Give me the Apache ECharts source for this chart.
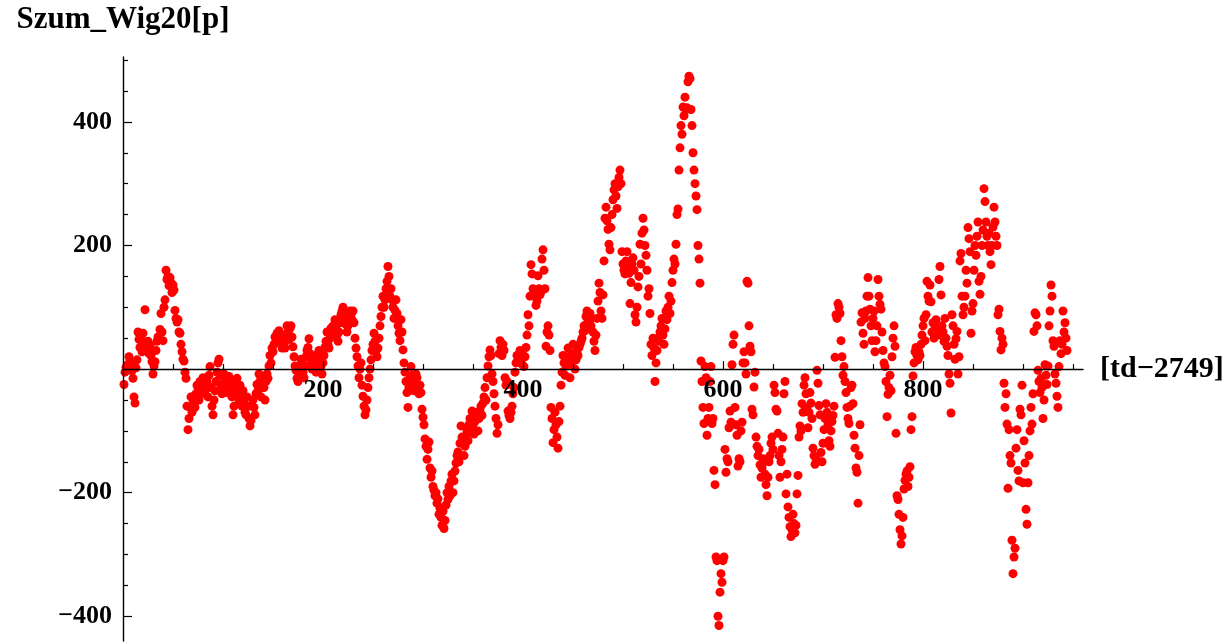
<!DOCTYPE html>
<html><head><meta charset="utf-8">
<script src="https://cdn.jsdelivr.net/npm/echarts@6/dist/echarts.min.js"></script>
<style>html,body{margin:0;padding:0;background:#fff}#c{width:1232px;height:642px}</style>
</head><body><div id="c"></div>
<script>
const firstDay = 1;
const noise = [
-25,-5,3,0,8,20,5,12,-3,-15,
-45,-55,2,15,60,48,35,50,28,58,
42,96,38,30,45,25,38,22,12,-8,
5,12,30,45,52,48,64,90,60,46,
100,112,160,145,150,135,148,140,124,136,
128,95,82,76,80,60,58,40,28,16,
13,-5,-15,-60,-98,-80,-62,-45,-70,-50,
-44,-62,-40,-26,-30,-50,-20,-26,-38,-14,
-25,-40,-32,-20,-45,-10,4,-30,-60,-74,
-50,-35,-20,-5,10,16,-10,-25,-40,-30,
-8,-20,-30,-38,-25,-12,-30,-20,-45,-74,
-60,-38,-26,-15,-30,-50,-26,-40,-60,-35,
-55,-70,-74,-45,-60,-80,-92,-83,-60,-50,
-62,-74,-40,-25,-35,-8,-20,-45,-30,-15,
-30,-50,-20,-8,-15,5,22,10,34,28,
40,52,45,58,50,62,58,44,34,50,
40,34,55,70,60,48,66,70,52,36,
20,5,-2,-15,-20,-10,5,16,10,-5,
-14,5,20,30,35,49,25,10,0,15,
20,8,-5,12,25,30,18,5,-8,10,
22,35,45,60,40,34,50,66,58,70,
62,80,70,55,45,60,75,88,94,100,
90,80,72,60,70,84,94,88,80,94,
75,50,34,20,5,-14,0,10,-26,-44,
-60,-74,-66,-50,-30,-14,0,15,30,40,
58,45,30,20,34,50,70,85,100,118,
100,112,130,142,166,150,118,130,112,100,
82,95,112,90,70,58,46,80,60,31,
10,-5,-20,-38,-62,-30,-15,4,-10,-25,
-35,-20,-8,-14,-30,-40,-26,-38,-65,-78,
-90,-113,-125,-146,-130,-118,-160,-175,-165,-190,
-196,-205,-200,-217,-210,-235,-225,-240,-253,-230,
-258,-245,-220,-200,-211,-190,-205,-181,-170,-200,
-181,-165,-152,-140,-134,-150,-120,-92,-110,-116,
-140,-125,-110,-100,-116,-90,-80,-100,-68,-90,
-105,-85,-70,-75,-100,-80,-68,-60,-75,-55,
-45,-30,-50,-14,5,20,31,22,-8,-20,
-40,-60,-80,-104,-90,25,46,35,22,40,
30,-14,-26,-20,-68,-75,-80,-70,-60,-40,
-30,-5,10,22,15,22,30,18,8,22,
4,20,35,55,88,70,118,169,154,130,
125,118,103,110,151,130,120,125,178,193,
160,130,37,60,70,55,30,-62,-80,-119,
-98,-70,-90,-110,-128,-85,-60,-26,-5,22,
10,-10,5,20,34,15,-14,8,25,40,
20,0,15,30,22,35,40,45,50,60,
70,62,85,94,80,75,90,70,82,60,
45,30,55,82,110,139,124,94,82,120,
175,244,262,240,226,202,193,229,250,274,
290,300,280,260,295,310,322,300,190,170,
160,154,175,190,165,155,106,140,170,180,
160,88,76,100,133,150,202,170,220,244,
225,200,184,160,118,130,90,40,22,50,
34,-20,10,30,50,45,60,70,82,55,
40,65,94,80,100,118,90,110,140,160,
178,170,202,250,259,322,358,394,380,424,
410,440,420,423,465,474,470,420,394,350,
322,300,280,258,200,178,139,13,-20,-62,
-88,4,-14,-107,-80,-62,-20,4,-88,-80,
-164,-187,-304,-310,-400,-415,-361,-331,-345,-310,
-304,-130,-167,-145,-150,-95,-68,-86,7,40,
55,-62,-90,-107,-157,-145,-150,-100,-86,10,
28,10,-8,142,139,70,37,28,-65,-74,
-29,-5,-110,-125,-140,-130,-155,-175,-160,-145,
-150,-170,-187,-205,-175,-150,-140,-120,-110,-130,
-26,-38,-65,-68,-104,-140,-175,-150,-130,-110,
-40,-20,-202,-170,-223,-240,-255,-271,-260,-235,
-250,-265,-253,-202,-172,-110,-92,-100,-56,-70,
-26,-14,-40,-62,-95,-70,-38,-55,-80,-128,
-140,-154,-145,-2,-23,-59,-74,-135,-150,-120,
-98,-80,-56,-70,-90,-116,-125,-100,-85,-75,
-60,19,88,82,106,100,90,46,20,-10,
4,-20,-38,-62,-80,-88,-60,-30,-26,-56,
-107,-128,-160,-167,-217,-140,-90,76,91,58,
40,82,94,118,148,118,97,70,46,82,
94,28,46,70,145,118,105,97,60,30,
10,4,-20,-77,-41,-30,-10,-35,20,50,
70,37,-104,-205,-211,-235,-260,-283,-270,-240,
-194,-180,-170,-165,-190,-175,-158,-98,-77,-11,
10,28,35,22,15,28,22,40,55,70,
82,46,88,142,118,110,136,109,60,75,
50,70,80,65,55,145,166,120,70,60,
45,82,50,37,22,-8,-23,-71,88,70,
40,16,49,61,-8,20,175,187,118,88,
100,118,160,139,229,211,190,58,94,106,
160,200,184,215,238,142,121,150,200,225,
292,271,238,215,200,220,190,169,200,230,
262,238,215,200,88,97,61,31,50,40,
-23,-62,-40,-89,-193,-98,-140,-152,-277,-331,
-304,-290,-128,-98,-164,-181,-65,-74,-26,-184,
-116,-152,-227,-251,-184,-140,-100,-62,-89,-40,
61,91,88,70,-2,-20,-38,-15,-30,-80,
-50,7,-10,-25,5,70,94,136,118,46,
37,-8,-23,-44,-62,4,46,25,40,94,
60,75,50,30
];
const xMajorTicks = [200, 400, 600, 800];
const yMajorTicks = [-400, -200, 200, 400];
const xName = '[td\u22122749]';
const yName = 'Szum_Wig20[p]';
const yMin = -440, yMax = 505;

const points = noise.map((v, i) => [firstDay + i, v]);
const fmt = v => (v < 0 ? '\u2212' + Math.abs(v) : String(v));
const font = '"Liberation Serif", "Times New Roman", serif';

const gridTop = 57, gridBottom = 1, H = 642;
const plotH = H - gridTop - gridBottom;
// distance (px) from grid bottom edge up to the value 0
const zeroOffset = plotH * (0 - yMin) / (yMax - yMin);

const chart = echarts.init(document.getElementById('c'), null, { renderer: 'canvas' });
chart.setOption({
  animation: false,
  backgroundColor: '#fff',
  grid: { left: 123, right: 149, top: gridTop, bottom: gridBottom, containLabel: false, outerBoundsMode: 'none' },
  xAxis: {
    type: 'value', min: 0, max: 960, interval: 200, z: 10,
    position: 'bottom', offset: -zeroOffset,
    axisLine: { show: true, onZero: false, lineStyle: { color: '#000', width: 1.4 } },
    splitLine: { show: false },
    axisTick: { show: true, inside: true, length: 8, customValues: xMajorTicks, lineStyle: { color: '#000', width: 1.2 } },
    minorTick: { show: true, splitNumber: 4, length: 5, lineStyle: { color: '#000', width: 1.2 } },
    axisLabel: { customValues: xMajorTicks, formatter: fmt, margin: 8, color: '#000', fontFamily: font, fontWeight: 'bold', fontSize: 26 },
    name: xName, nameLocation: 'end', nameGap: 17,
    nameTextStyle: { color: '#000', fontFamily: font, fontWeight: 'bold', fontSize: 30, align: 'left', verticalAlign: 'middle' }
  },
  yAxis: {
    type: 'value', min: yMin, max: yMax, splitNumber: 5, z: 10,
    axisLine: { show: true, onZero: false, lineStyle: { color: '#000', width: 1.4 } },
    splitLine: { show: false },
    axisTick: { show: true, inside: true, length: 9, customValues: yMajorTicks, lineStyle: { color: '#000', width: 1.2 } },
    minorTick: { show: true, splitNumber: 4, length: 5, lineStyle: { color: '#000', width: 1.2 } },
    axisLabel: { customValues: yMajorTicks, formatter: fmt, margin: 11, color: '#000', fontFamily: font, fontWeight: 'bold', fontSize: 26 },
    name: yName, nameLocation: 'end', nameGap: 22,
    nameTextStyle: { color: '#000', fontFamily: font, fontWeight: 'bold', fontSize: 31, align: 'center' }
  },
  series: [{
    type: 'scatter',
    data: points,
    symbol: 'circle',
    symbolSize: 9,
    itemStyle: { color: '#ff0000', opacity: 1 },
    z: 1
  }]
});
</script>
</body></html>
